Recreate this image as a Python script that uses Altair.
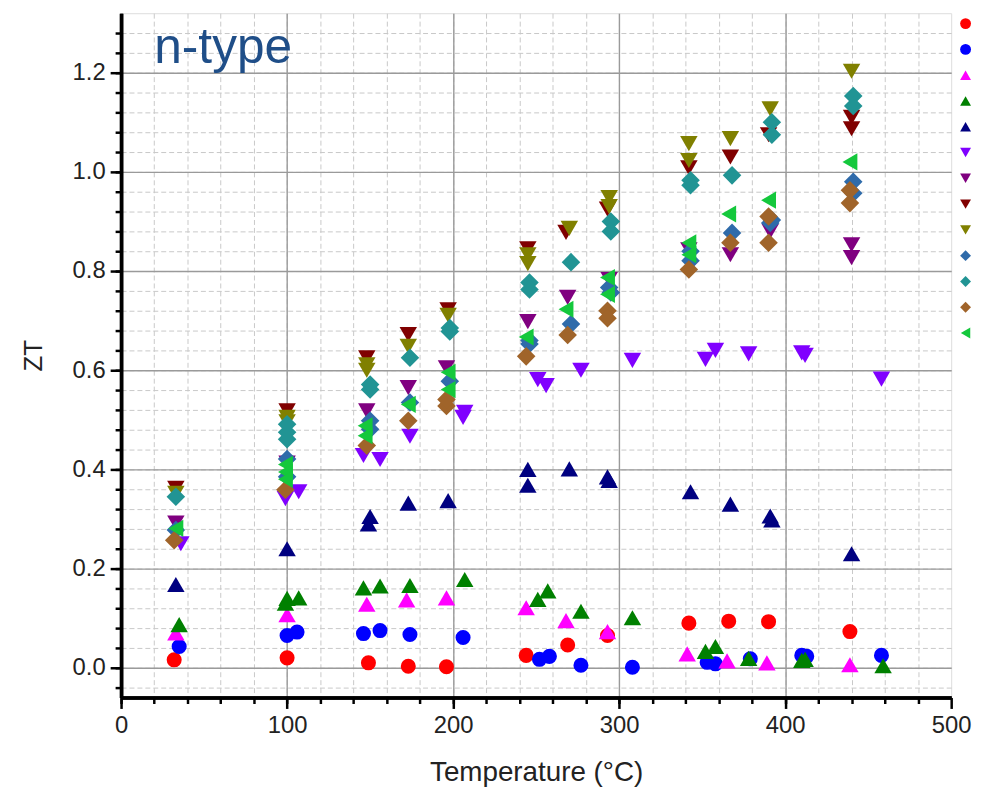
import altair as alt
import pandas as pd

series_names = [f"Series {i}" for i in range(1, 14)]
colors = ["#FF0000", "#0000FF", "#FF00FF", "#008000", "#000080", "#8000FF", "#800080",
          "#800000", "#808000", "#2F6BAA", "#219494", "#A0642A", "#14C83C"]
shapes = ["circle", "circle", "triangle-up", "triangle-up", "triangle-up", "triangle-down",
          "triangle-down", "triangle-down", "triangle-down", "diamond", "diamond", "diamond",
          "triangle-left"]
marker_sizes = [230, 230, 310, 310, 310, 310, 310, 310, 310, 350, 350, 350, 300]

t_s1 = [32, 100, 149, 173, 196, 244, 269, 293, 342, 366, 390, 439]
zt_s1 = [0.016, 0.020, 0.010, 0.003, 0.002, 0.025, 0.046, 0.065, 0.090, 0.094, 0.093, 0.073]

t_s2 = [35, 100, 106, 146, 156, 174, 206, 252, 258, 277, 308, 353, 358, 379, 410, 413, 458]
zt_s2 = [0.043, 0.065, 0.072, 0.069, 0.075, 0.067, 0.061, 0.017, 0.023, 0.005, 0.001, 0.011,
         0.008, 0.018, 0.025, 0.023, 0.025]

t_s3 = [33, 100, 148, 172, 196, 244, 268, 293, 341, 365, 389, 439]
zt_s3 = [0.070, 0.107, 0.128, 0.137, 0.141, 0.121, 0.095, 0.073, 0.028, 0.014, 0.010, 0.006]

t_s4 = [35, 99, 100, 107, 146, 156, 174, 207, 251, 257, 277, 308, 352, 358, 378, 410, 412, 459]
zt_s4 = [0.087, 0.130, 0.140, 0.141, 0.161, 0.165, 0.166, 0.178, 0.138, 0.155, 0.114, 0.101,
         0.033, 0.043, 0.019, 0.015, 0.017, 0.004]

t_s5 = [33, 100, 149, 150, 173, 197, 245, 245, 270, 293, 294, 343, 367, 391, 392, 440]
zt_s5 = [0.168, 0.240, 0.290, 0.305, 0.332, 0.337, 0.368, 0.400, 0.401, 0.385, 0.378, 0.355,
         0.330, 0.306, 0.298, 0.230]

t_s6 = [36, 99, 107, 146, 156, 174, 206, 207, 251, 256, 277, 308, 352, 358, 378, 410, 412, 458]
zt_s6 = [0.250, 0.341, 0.355, 0.428, 0.420, 0.467, 0.505, 0.515, 0.581, 0.569, 0.600, 0.620,
         0.622, 0.640, 0.633, 0.635, 0.630, 0.582]

t_s7 = [33, 100, 148, 173, 196, 245, 269, 294, 342, 367, 391, 440, 440]
zt_s7 = [0.292, 0.413, 0.518, 0.565, 0.605, 0.698, 0.747, 0.783, 0.843, 0.833, 0.880, 0.853, 0.827]

t_s8 = [33, 100, 148, 173, 197, 245, 268, 293, 342, 367, 390, 440, 440]
zt_s8 = [0.362, 0.518, 0.625, 0.672, 0.722, 0.845, 0.878, 0.925, 1.008, 1.030, 1.075, 1.110, 1.087]

t_s9 = [33, 100, 100, 148, 148, 173, 197, 245, 245, 270, 294, 294, 342, 342, 367, 391, 440]
zt_s9 = [0.352, 0.505, 0.496, 0.611, 0.600, 0.648, 0.711, 0.833, 0.815, 0.886, 0.948, 0.930,
         1.057, 1.023, 1.067, 1.127, 1.203]

t_s10 = [33, 100, 100, 150, 150, 174, 198, 246, 246, 271, 295, 294, 343, 343, 368, 391, 392, 441, 441]
zt_s10 = [0.278, 0.421, 0.385, 0.498, 0.481, 0.535, 0.578, 0.660, 0.653, 0.693, 0.757, 0.767,
          0.840, 0.821, 0.877, 0.897, 0.903, 0.980, 0.957]

t_s11 = [33, 100, 100, 100, 150, 150, 174, 198, 198, 246, 246, 271, 295, 295, 343, 343, 368,
         392, 392, 441, 441]
zt_s11 = [0.345, 0.491, 0.475, 0.461, 0.561, 0.571, 0.625, 0.678, 0.685, 0.777, 0.763, 0.818,
          0.900, 0.880, 0.983, 0.973, 0.993, 1.100, 1.075, 1.153, 1.133]

t_s12 = [32, 99, 148, 173, 196, 196, 244, 269, 293, 293, 342, 367, 390, 390, 439, 439]
zt_s12 = [0.257, 0.359, 0.448, 0.498, 0.528, 0.541, 0.628, 0.671, 0.720, 0.705, 0.803, 0.857,
          0.910, 0.857, 0.963, 0.937]

t_s13 = [33, 99, 99, 99, 147, 147, 173, 197, 197, 244, 268, 293, 293, 342, 342, 366, 390, 439]
zt_s13 = [0.281, 0.410, 0.395, 0.380, 0.488, 0.468, 0.531, 0.596, 0.561, 0.667, 0.723, 0.787,
          0.753, 0.857, 0.833, 0.915, 0.943, 1.020]

x_minor_ticks = list(range(0, 481, 20))
x_major_ticks = [0, 100, 200, 300, 400, 500]
y_minor_ticks = [round(i * 0.04, 2) for i in range(-1, 33)]
y_major_ticks = [0.0, 0.2, 0.4, 0.6, 0.8, 1.0, 1.2]

annotation_text = ["n-type"]
annotation_t = [20]
annotation_zt = [1.25]

all_t = [t_s1, t_s2, t_s3, t_s4, t_s5, t_s6, t_s7, t_s8, t_s9, t_s10, t_s11, t_s12, t_s13]
all_zt = [zt_s1, zt_s2, zt_s3, zt_s4, zt_s5, zt_s6, zt_s7, zt_s8, zt_s9, zt_s10, zt_s11, zt_s12, zt_s13]

rows = []
idx = 0
for name, msize, ts, zs in zip(series_names, marker_sizes, all_t, all_zt):
    for t, z in zip(ts, zs):
        rows.append({"series": name, "T": t, "ZT": z, "idx": idx, "msize": msize})
        idx += 1
df = pd.DataFrame(rows)

common = dict(domainColor="black", domainWidth=3.5, tickColor="black", tickWidth=2.5, grid=True)

x_minor_axis = alt.Axis(
    orient="bottom", values=x_minor_ticks, title=None, labels=False,
    tickSize=6, gridColor="#c8c8c8", gridDash=[5, 3], gridWidth=1, **common,
)
y_minor_axis = alt.Axis(
    orient="left", values=y_minor_ticks, title=None, labels=False,
    tickSize=6, gridColor="#c8c8c8", gridDash=[5, 3], gridWidth=1, **common,
)
x_major_axis = alt.Axis(
    orient="bottom", values=x_major_ticks, title="Temperature (°C)",
    titleFontSize=28, titleFontWeight="normal", titleColor="#222222", titlePadding=22,
    labelFontSize=24, labelColor="#222222", labelPadding=5, labelFlush=False, labelOverlap=False,
    tickSize=11, gridColor="#9a9a9a", gridWidth=1.4,
    gridOpacity={"condition": {"test": "datum.value === 500 || datum.value === 0", "value": 0}, "value": 1},
    **common,
)
y_major_axis = alt.Axis(
    orient="left", values=y_major_ticks, title="ZT", format=".1f",
    titleFontSize=26, titleFontWeight="normal", titleColor="#222222", titlePadding=26,
    labelFontSize=24, labelColor="#222222", labelPadding=5, labelFlush=False, labelOverlap=False,
    tickSize=11, gridColor="#9a9a9a", gridWidth=1.4, **common,
)

legend = alt.Legend(
    orient="none", legendX=846, legendY=5, title=None,
    labelExpr="''", labelFontSize=10, symbolSize=120, rowPadding=15, padding=0,
    symbolStrokeWidth=0,
)

x_scale = alt.Scale(domain=[0, 500], nice=False, zero=False)
y_scale = alt.Scale(domain=[-0.06, 1.32], nice=False, zero=False)

points = alt.Chart(df).mark_point(filled=True, opacity=1, strokeWidth=0).encode(
    x=alt.X("T:Q", scale=x_scale, axis=x_minor_axis),
    y=alt.Y("ZT:Q", scale=y_scale, axis=y_minor_axis),
    color=alt.Color("series:N", scale=alt.Scale(domain=series_names, range=colors), legend=legend),
    shape=alt.Shape("series:N", scale=alt.Scale(domain=series_names, range=shapes), legend=legend),
    size=alt.Size("msize:Q", scale=None, legend=None),
    order=alt.Order("idx:Q"),
)

ann_df = pd.DataFrame({"T": annotation_t, "ZT": annotation_zt, "label": annotation_text})
label = alt.Chart(ann_df).mark_text(
    align="left", baseline="middle", fontSize=50, color="#1F4E88", font="Liberation Sans"
).encode(
    x=alt.X("T:Q", scale=x_scale, axis=x_major_axis),
    y=alt.Y("ZT:Q", scale=y_scale, axis=y_major_axis),
    text="label:N",
)

chart = alt.layer(points, label).resolve_axis(x="independent", y="independent").properties(
    width=837, height=690,
    autosize=alt.AutoSizeParams(type="none"),
    padding={"left": 114, "top": 2, "right": 23, "bottom": 90},
).configure_view(stroke=None).configure(font="Liberation Sans")

chart.save("out.html", embed_options={"renderer": "svg", "actions": False})
